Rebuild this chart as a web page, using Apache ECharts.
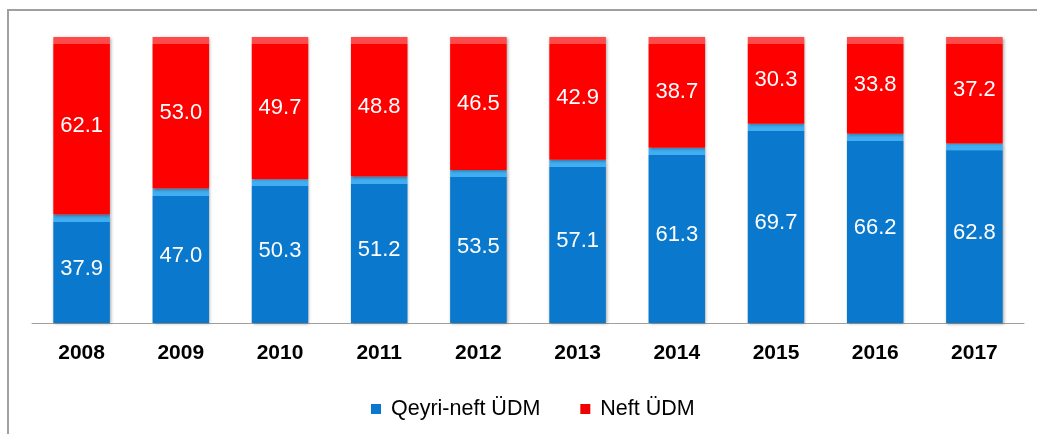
<!DOCTYPE html>
<html>
<head>
    <meta charset="utf-8" />
    <title>ÜDM strukturu</title>
    <script src="https://cdn.jsdelivr.net/npm/echarts@6/dist/echarts.min.js"></script>
    <style>
        html, body { margin: 0; padding: 0; background: #fff; }
        #chart { width: 1037px; height: 434px; }
    </style>
</head>
<body>
    <div id="chart"></div>
    <script>
        // illər və paylar (%)
        var years = ['2008', '2009', '2010', '2011', '2012', '2013', '2014', '2015', '2016', '2017'];
        var qeyriNeft = [37.9, 47.0, 50.3, 51.2, 53.5, 57.1, 61.3, 69.7, 66.2, 62.8];
        var neft = [62.1, 53.0, 49.7, 48.8, 46.5, 42.9, 38.7, 30.3, 33.8, 37.2];

        var plotH = 286; // 0..100 piksel hündürlüyü
        // yuxarı kənarda açıq rəngli "faska" zolağı
        function bevelItems(arr, light, base) {
            return arr.map(function (v) {
                var f = 7 / (v / 100 * plotH);
                return {
                    value: v,
                    itemStyle: {
                        color: new echarts.graphic.LinearGradient(0, 0, 0, 1, [
                            { offset: 0, color: light },
                            { offset: f, color: light },
                            { offset: f + 0.001, color: base },
                            { offset: 1, color: base }
                        ])
                    }
                };
            });
        }

        var chart = echarts.init(document.getElementById('chart'));
        var labelStyle = {
            show: true,
            position: 'inside',
            color: '#fff',
            fontFamily: 'Liberation Sans, Arial',
            fontSize: 22,
            formatter: function (p) { return p.value.toFixed(1); }
        };
        chart.setOption({
            animation: false,
            grid: { left: 32, right: 13, top: 37, bottom: 111 },
            graphic: [{
                type: 'rect',
                shape: { x: 8, y: 10, width: 1040, height: 440 },
                style: { fill: 'none', stroke: '#a0a0a0', lineWidth: 2 },
                silent: true
            }],
            legend: {
                top: 393,
                left: 366,
                itemWidth: 10,
                itemHeight: 10,
                itemGap: 40,
                textStyle: { fontFamily: 'Liberation Sans, Arial', fontSize: 21.5, color: '#000', padding: [0, 0, 0, 5] },
                data: [
                    { name: 'Qeyri-neft ÜDM', icon: 'rect', itemStyle: { color: '#0a78cc' } },
                    { name: 'Neft ÜDM', icon: 'rect', itemStyle: { color: '#f00000' } }
                ]
            },
            xAxis: {
                type: 'category',
                data: years,
                axisTick: { show: false },
                axisLine: { lineStyle: { color: '#a0a0a0', width: 1 } },
                axisLabel: {
                    color: '#000',
                    fontWeight: 'bold',
                    fontFamily: 'Liberation Sans, Arial',
                    fontSize: 21,
                    margin: 20
                }
            },
            yAxis: { type: 'value', min: 0, max: 100, show: false },
            series: [{
                name: 'Qeyri-neft ÜDM',
                type: 'bar',
                stack: 'udm',
                barWidth: '57%',
                data: bevelItems(qeyriNeft, '#41aef2', '#0a78cc'),
                itemStyle: { color: '#0a78cc', shadowColor: 'rgba(0,0,0,0.35)', shadowBlur: 3, shadowOffsetX: 1, shadowOffsetY: 1 },
                label: labelStyle
            }, {
                name: 'Neft ÜDM',
                type: 'bar',
                stack: 'udm',
                data: bevelItems(neft, '#ff4a4a', '#ff0000'),
                itemStyle: { color: '#ff0000', shadowColor: 'rgba(0,0,0,0.35)', shadowBlur: 3, shadowOffsetX: 1, shadowOffsetY: 1 },
                label: labelStyle
            }]
        });
    </script>
</body>
</html>
